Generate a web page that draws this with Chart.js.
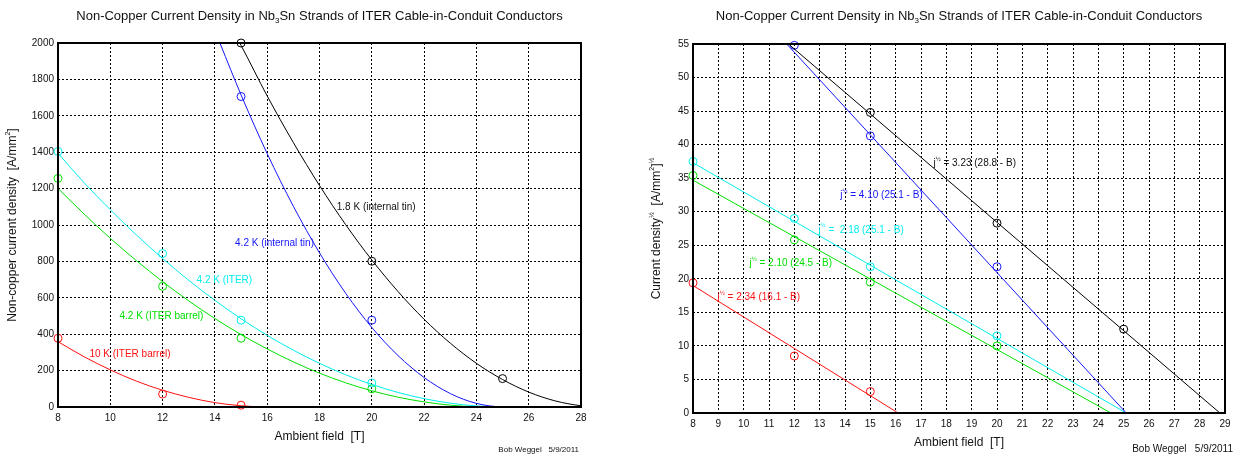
<!DOCTYPE html>
<html>
<head>
<meta charset="utf-8">
<script src="https://cdn.jsdelivr.net/npm/chart.js@4.4.1/dist/chart.umd.min.js"></script>
<style>
  body { margin: 0; background: #fff; }
  canvas { position: absolute; top: 0; }
  #left { left: 0; }
  #right { left: 620px; }
</style>
</head>
<body>
<canvas id="left" width="620" height="457"></canvas>
<canvas id="right" width="621" height="457"></canvas>
<script>
'use strict';

// ---- data (B in tesla) ----

// measured points, non-copper Jc [A/mm2]
let fields18 = [15, 20, 25];
let jc18 = [2000, 801, 156];
let fields42tin = [12, 15, 20];
let jc42tin = [3003, 1706, 477];
let fields42iter = [8, 12, 15, 20];
let jc42iter = [1404, 843, 477, 132];
let fields42barrel = [8, 12, 15, 20];
let jc42barrel = [1256, 663, 378, 100];
let fields10barrel = [8, 12, 15];
let jc10barrel = [378, 71, 10];

// same points as Jc^1/2
let root18 = [44.8, 28.3, 12.5];
let root42tin = [54.8, 41.3, 21.8];
let root42iter = [37.5, 29.0, 21.8, 11.5];
let root42barrel = [35.4, 25.8, 19.5, 10.0];
let root10barrel = [19.4, 8.5, 3.2];

// fitted curves on the left panel
let curveFields18 = [14.95, 15, 16, 17, 18, 19, 20, 21, 22, 23, 24, 25, 26, 27, 28, 28.8];
let curve18 = [2000, 1987, 1709, 1453, 1217, 1002, 808, 635, 482, 351, 240, 151, 82, 34, 7, 0];
let curveFields42tin = [14.2, 15, 16, 17, 18, 19, 20, 21, 22, 23, 24, 25, 25.1];
let curve42tin = [1997, 1715, 1392, 1103, 847, 625, 437, 283, 162, 74, 20, 0.2, 0];
let curveFields42iter = [8, 9, 10, 11, 12, 13, 14, 15, 16, 17, 18, 19, 20, 21, 22, 23, 24, 25.1];
let curve42iter = [1395, 1232, 1084, 945, 816, 696, 586, 485, 394, 312, 240, 177, 124, 80, 46, 21, 6, 0];
let curveFields42barrel = [8, 9, 10, 11, 12, 13, 14, 15, 16, 17, 18, 19, 20, 21, 22, 23, 24, 24.5];
let curve42barrel = [1201, 1060, 927, 804, 689, 583, 486, 398, 319, 248, 186, 133, 89, 54, 28, 10, 1, 0];
let curveFields10barrel = [8, 9, 10, 11, 12, 13, 14, 15, 16, 16.1];
let curve10barrel = [359, 276, 204, 142, 92, 53, 24, 7, 0, 0];

// straight fits on the right panel (end points)
let lineFields18 = [11.77, 28.8];
let line18 = [55, 0];
let lineFields42tin = [11.7, 25.1];
let line42tin = [55, 0];
let lineFields42iter = [8, 25.1];
let line42iter = [37.3, 0];
let lineFields42barrel = [8, 24.5];
let line42barrel = [34.7, 0];
let lineFields10barrel = [8, 16.1];
let line10barrel = [19.0, 0];

// ---- drawing ----

const FAMILY = '"Liberation Sans", Arial, sans-serif';
const BLACK = '#000000';
const BLUE = '#1515ff';
const CYAN = '#00eeee';
const GREEN = '#00e000';
const RED = '#ff1010';

const titleRuns = [['Non-Copper Current Density in Nb', ''], ['3', 'sub'], ['Sn Strands of ITER Cable-in-Conduit Conductors', '']];
const xTitleRuns = [['Ambient field  [T]', '']];

function toXY( xs, ys ) {
  let out = [];
  for ( let i = 0; i < xs.length; i++ ) {
    out.push( { x: xs[i], y: ys[i] } );
  }
  return out;
}

function curve( xs, ys, color ) {
  return {
    data: toXY( xs, ys ),
    showLine: true,
    borderColor: color,
    borderWidth: 1,
    pointRadius: 0,
    cubicInterpolationMode: 'monotone'
  };
}

function marks( xs, ys, color ) {
  return {
    data: toXY( xs, ys ),
    showLine: false,
    borderColor: color,
    pointBorderColor: color,
    pointBackgroundColor: 'rgba(0,0,0,0)',
    pointBorderWidth: 1,
    pointRadius: 4,
    clip: 6
  };
}

function drawRuns( ctx, runs, x, y, size, align ) {
  let fontOf = r => ( r[1] ? Math.round( size * 0.62 ) : size ) + 'px ' + FAMILY;
  let total = 0;
  runs.forEach( r => { ctx.font = fontOf( r ); total += ctx.measureText( r[0] ).width; } );
  let cx = align === 'center' ? x - total / 2 : ( align === 'right' ? x - total : x );
  ctx.textAlign = 'left';
  ctx.textBaseline = 'middle';
  runs.forEach( r => {
    ctx.font = fontOf( r );
    let dy = r[1] === 'sub' ? size * 0.38 : ( r[1] === 'sup' ? -size * 0.42 : 0 );
    ctx.fillText( r[0], cx, y + dy );
    cx += ctx.measureText( r[0] ).width;
  } );
}

const textPlugin = {
  id: 'texts',
  afterDraw( chart, args, opts ) {
    let ctx = chart.ctx;
    let a = chart.chartArea;
    let xs = chart.scales.x;
    let ys = chart.scales.y;
    ctx.save();
    ctx.strokeStyle = '#000';
    ctx.lineWidth = 2;
    ctx.strokeRect( a.left, a.top, a.right - a.left, a.bottom - a.top );

    ctx.fillStyle = '#111';
    let mid = ( a.left + a.right ) / 2;
    drawRuns( ctx, titleRuns, mid, 16, 13, 'center' );
    drawRuns( ctx, xTitleRuns, mid, a.bottom + 30, 12, 'center' );
    drawRuns( ctx, [[opts.footer, '']], opts.footerX, opts.footerY, opts.footerSize, 'right' );

    ctx.save();
    ctx.translate( opts.yTitleX, ( a.top + a.bottom ) / 2 );
    ctx.rotate( -Math.PI / 2 );
    drawRuns( ctx, opts.yTitle, 0, 0, 12, 'center' );
    ctx.restore();

    opts.notes.forEach( n => {
      ctx.fillStyle = n.color;
      drawRuns( ctx, n.runs, xs.getPixelForValue( n.x ), ys.getPixelForValue( n.y ), 10, 'left' );
    } );
    ctx.restore();
  }
};

function axis( min, max, step, size, pad, isX ) {
  return {
    type: 'linear',
    min: min,
    max: max,
    afterFit: s => { if ( isX ) { s.height = size; } else { s.width = size; } },
    ticks: {
      stepSize: step,
      padding: pad,
      color: '#111',
      maxRotation: 0,
      font: { family: FAMILY, size: 10 },
      callback: v => String( v )
    },
    grid: { color: '#000', lineWidth: 1, drawTicks: false },
    border: { display: false, dash: [2, 2] }
  };
}

function half( label ) {
  return [['j', ''], ['½', 'sup'], [label, '']];
}

new Chart( document.getElementById( 'left' ), {
  type: 'scatter',
  data: {
    datasets: [
      curve( curveFields18, curve18, BLACK ),
      curve( curveFields42tin, curve42tin, BLUE ),
      curve( curveFields42iter, curve42iter, CYAN ),
      curve( curveFields42barrel, curve42barrel, GREEN ),
      curve( curveFields10barrel, curve10barrel, RED ),
      marks( fields18, jc18, BLACK ),
      marks( fields42tin, jc42tin, BLUE ),
      marks( fields42iter, jc42iter, CYAN ),
      marks( fields42barrel, jc42barrel, GREEN ),
      marks( fields10barrel, jc10barrel, RED )
    ]
  },
  options: {
    responsive: false,
    animation: false,
    layout: { padding: { left: 0, top: 43, right: 39, bottom: 0 } },
    scales: {
      x: axis( 8, 28, 2, 50, 5, true ),
      y: axis( 0, 2000, 200, 58, 4, false )
    },
    plugins: {
      legend: { display: false },
      tooltip: { enabled: false },
      texts: {
        yTitle: [['Non-copper current density  [A/mm', ''], ['2', 'sup'], [']', '']],
        yTitleX: 13,
        footer: 'Bob Weggel   5/9/2011',
        footerX: 579,
        footerY: 450,
        footerSize: 8,
        notes: [
          { runs: [['1.8 K (internal tin)', '']], color: '#111', x: 18.66, y: 1100 },
          { runs: [['4.2 K (internal tin)', '']], color: BLUE, x: 14.77, y: 897 },
          { runs: [['4.2 K (ITER)', '']], color: CYAN, x: 13.3, y: 697 },
          { runs: [['4.2 K (ITER barrel)', '']], color: GREEN, x: 10.35, y: 499 },
          { runs: [['10 K (ITER barrel)', '']], color: RED, x: 9.2, y: 290 }
        ]
      }
    }
  },
  plugins: [textPlugin]
} );

new Chart( document.getElementById( 'right' ), {
  type: 'scatter',
  data: {
    datasets: [
      curve( lineFields18, line18, BLACK ),
      curve( lineFields42tin, line42tin, BLUE ),
      curve( lineFields42iter, line42iter, CYAN ),
      curve( lineFields42barrel, line42barrel, GREEN ),
      curve( lineFields10barrel, line10barrel, RED ),
      marks( fields18, root18, BLACK ),
      marks( fields42tin, root42tin, BLUE ),
      marks( fields42iter, root42iter, CYAN ),
      marks( fields42barrel, root42barrel, GREEN ),
      marks( fields10barrel, root10barrel, RED )
    ]
  },
  options: {
    responsive: false,
    animation: false,
    layout: { padding: { left: 0, top: 44, right: 16, bottom: 0 } },
    scales: {
      x: axis( 8, 29, 1, 44, 5, true ),
      y: axis( 0, 55, 5, 73, 4, false )
    },
    plugins: {
      legend: { display: false },
      tooltip: { enabled: false },
      texts: {
        yTitle: [['Current density', ''], ['½', 'sup'], ['  [A/mm', ''], ['2', 'sup'], [']', ''], ['½', 'sup']],
        yTitleX: 37,
        footer: 'Bob Weggel   5/9/2011',
        footerX: 613,
        footerY: 449,
        footerSize: 10,
        notes: [
          { runs: half( ' = 3.23 (28.8 - B)' ), color: '#111', x: 17.49, y: 37.2 },
          { runs: half( ' = 4.10 (25.1 - B)' ), color: BLUE, x: 13.81, y: 32.4 },
          { runs: half( ' =  2.18 (25.1 - B)' ), color: CYAN, x: 12.95, y: 27.3 },
          { runs: half( ' = 2.10 (24.5 - B)' ), color: GREEN, x: 10.23, y: 22.3 },
          { runs: half( ' = 2.34 (16.1 - B)' ), color: RED, x: 8.97, y: 17.2 }
        ]
      }
    }
  },
  plugins: [textPlugin]
} );
</script>
</body>
</html>
